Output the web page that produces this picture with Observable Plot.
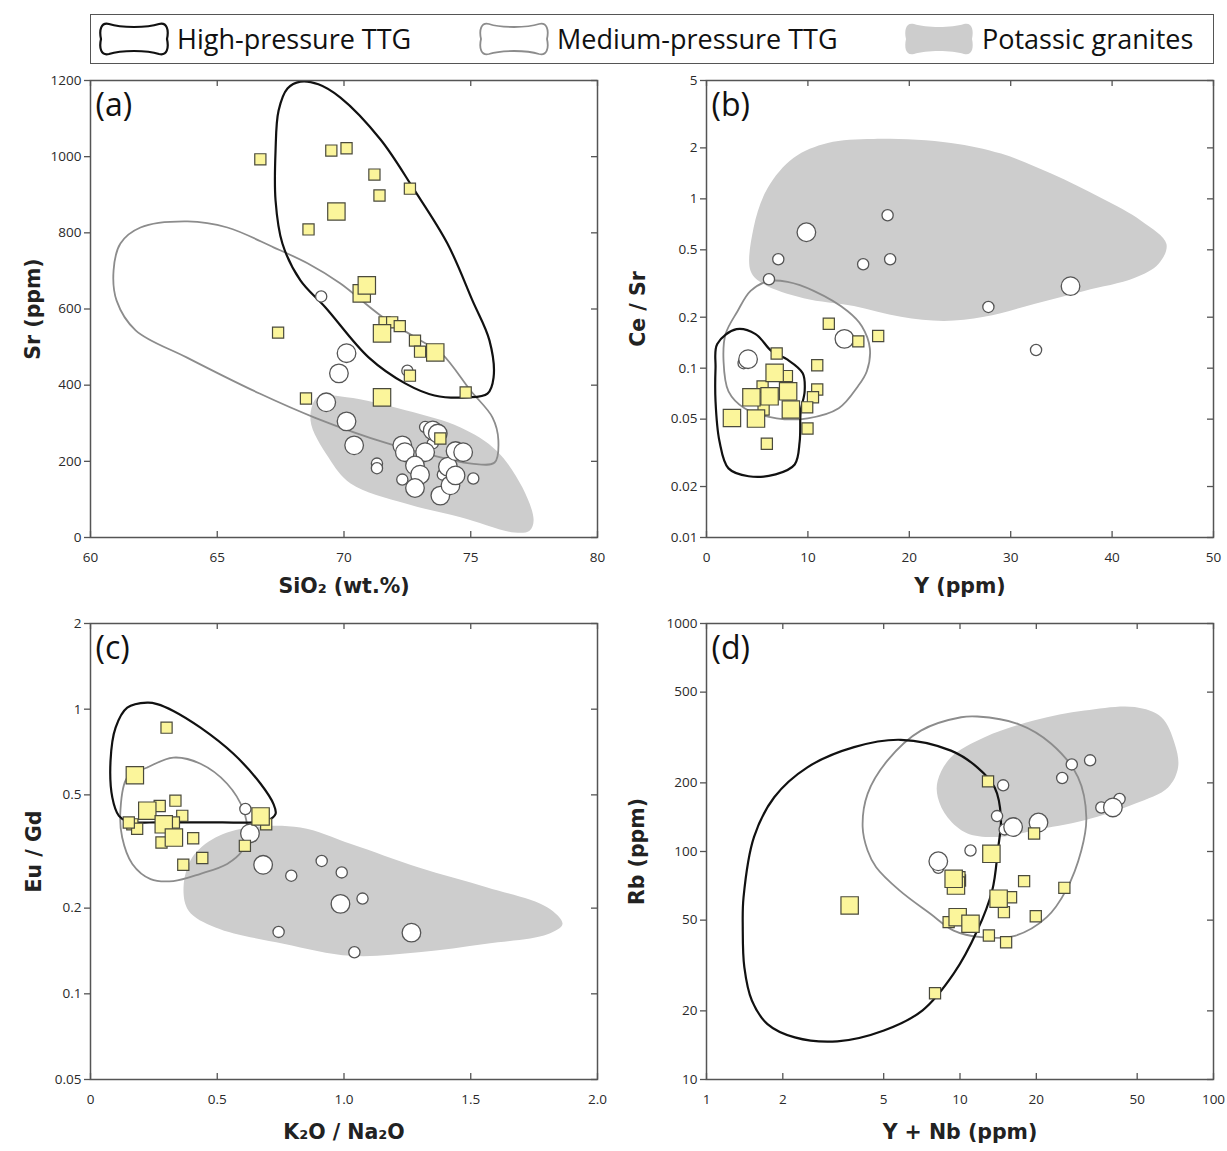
<!DOCTYPE html>
<html><head><meta charset="utf-8">
<script src="https://cdn.jsdelivr.net/npm/d3@7"></script>
<script src="https://cdn.jsdelivr.net/npm/@observablehq/plot@0.6"></script>
<style>
body{margin:0;background:#fff;}
#root{position:relative;width:1227px;height:1151px;overflow:hidden;font-family:"Open Sans",sans-serif;}
.panel{position:absolute;}
.panel svg g[aria-label="x-axis label"], .panel svg g[aria-label="y-axis label"]{font-family:"DejaVu Sans",sans-serif;font-weight:bold;font-size:20.5px;fill:#222;}
#legend{position:absolute;left:90px;top:14px;width:1124px;height:50px;border:1.5px solid #555;box-sizing:border-box;}
.li{position:absolute;top:0;height:47px;display:flex;align-items:center;font-size:27px;color:#111;}
.li svg{margin-right:6px;}
</style>
</head><body>
<div id="root">
  <div id="legend">
    <div class="li" style="left:8px"><svg width="72" height="38"><path d="M10,4 C22,8 48,8 60,4 C68,2 70,10 68,19 C70,28 68,36 60,34 C48,30 22,30 10,34 C2,36 0,28 2,19 C0,10 2,2 10,4 Z" fill="#fff" stroke="#111" stroke-width="2.2"/></svg><span>High-pressure TTG</span></div>
    <div class="li" style="left:388px"><svg width="72" height="38"><path d="M10,4 C22,8 48,8 60,4 C68,2 70,10 68,19 C70,28 68,36 60,34 C48,30 22,30 10,34 C2,36 0,28 2,19 C0,10 2,2 10,4 Z" fill="#fff" stroke="#8c8c8c" stroke-width="1.8"/></svg><span>Medium-pressure TTG</span></div>
    <div class="li" style="left:813px"><svg width="72" height="38"><path d="M10,4 C22,8 48,8 60,4 C68,2 70,10 68,19 C70,28 68,36 60,34 C48,30 22,30 10,34 C2,36 0,28 2,19 C0,10 2,2 10,4 Z" fill="#cdcdcd" stroke="none"/></svg><span>Potassic granites</span></div>
  </div>
</div>
<script>
// ---------- Panel (a): SiO2 vs Sr ----------
const aXTicks = [60, 65, 70, 75, 80];
const aYTicks = [0, 200, 400, 600, 800, 1000, 1200];
const aHP = [[68.28,1197],[68.99,1190],[69.86,1155],[71.44,1045],[72.74,916],[74.08,772],[75.07,622],[75.74,517],[75.90,420],[75.66,378],[74.87,368],[73.57,373],[72.43,404],[70.97,473],[69.27,604],[68.28,675],[67.57,772],[67.30,885],[67.30,1016],[67.42,1121],[67.77,1179]];
const aMP = [[60.91,701],[61.18,772],[61.97,814],[63.83,830],[65.40,814],[67.22,762],[68.56,720],[69.86,667],[71.44,583],[73.02,517],[73.85,483],[74.99,386],[75.86,315],[76.09,255],[75.94,197],[75.03,194],[73.85,210],[71.72,247],[68.84,315],[66.67,378],[63.79,473],[61.78,544],[61.03,622]];
const aKG = [[68.95,368],[70.10,368],[72.43,334],[74.60,289],[76.02,228],[77.04,131],[77.48,45],[77.32,18],[76.73,13],[74.60,53],[72.43,89],[70.26,142],[69.39,210],[68.68,307]];
const aSqSmall = [[66.7,993],[69.5,1016],[70.1,1022],[71.2,953],[71.4,898],[72.6,916],[68.6,809],[67.4,538],[71.6,565],[71.9,565],[72.2,555],[72.8,517],[73.0,488],[72.6,425],[68.5,365],[73.8,260],[74.8,381]];
const aSqLarge = [[69.7,856],[70.7,641],[70.9,662],[71.5,536],[73.6,486],[71.5,368]];
const aCiSmall = [[69.1,633],[72.5,438],[71.3,194],[71.3,182],[73.5,247],[72.3,152],[75.1,155],[73.2,290],[73.9,165]];
const aCiLarge = [[70.1,484],[69.8,431],[69.3,355],[70.1,305],[70.4,242],[72.3,242],[72.4,224],[73.5,281],[73.7,273],[73.2,224],[72.8,189],[73.0,165],[72.8,130],[73.8,110],[74.2,137],[74.1,186],[74.4,227],[74.7,224],[74.4,163]];

// ---------- Panel (b): Y vs Ce/Sr ----------
const bXTicks = [0, 10, 20, 30, 40, 50];
const bYTicks = [0.01, 0.02, 0.05, 0.1, 0.2, 0.5, 1, 2, 5];
const bHP = [[1.06,0.139],[2.96,0.170],[4.84,0.159],[6.42,0.126],[7.91,0.113],[9.49,0.0933],[9.68,0.073],[9.29,0.0557],[9.19,0.037],[8.70,0.027],[6.82,0.0236],[4.15,0.023],[2.17,0.0256],[1.28,0.037],[0.89,0.0638],[0.89,0.1]];
const bMP = [[1.68,0.110],[1.88,0.159],[3.06,0.217],[4.35,0.286],[6.13,0.327],[8.00,0.323],[10.57,0.286],[13.93,0.217],[15.32,0.177],[16.11,0.131],[15.81,0.096],[14.92,0.078],[13.04,0.058],[9.98,0.0506],[6.92,0.0506],[3.75,0.058],[2.17,0.073]];
const bKG = [[4.35,0.375],[4.64,0.673],[6.03,1.16],[8.60,1.75],[11.96,2.14],[16.50,2.26],[24.11,2.14],[29.05,1.85],[33.99,1.41],[38.93,1.01],[42.89,0.741],[45.36,0.542],[44.57,0.412],[42.19,0.341],[37.25,0.286],[32.31,0.239],[27.37,0.201],[23.42,0.190],[19.17,0.201],[14.53,0.233],[9.58,0.259],[5.63,0.314]];
const bSqSmall = [[12.06,0.183],[14.97,0.144],[16.93,0.155],[6.92,0.122],[10.92,0.104],[7.93,0.0898],[5.53,0.078],[10.92,0.0748],[10.5,0.0673],[9.93,0.0587],[5.63,0.057],[9.96,0.044],[5.95,0.0358]];
const bSqLarge = [[6.72,0.0938],[4.43,0.0673],[6.22,0.0682],[8.05,0.073],[8.32,0.057],[2.51,0.0508],[4.88,0.0504]];
const bCiSmall = [[17.86,0.80],[7.08,0.44],[15.45,0.411],[18.11,0.44],[6.16,0.335],[27.8,0.23],[32.5,0.128],[3.66,0.107]];
const bCiLarge = [[9.85,0.635],[35.9,0.305],[13.6,0.149],[4.1,0.113]];

// ---------- Panel (c): K2O/Na2O vs Eu/Gd ----------
const cXTicks = [0, 0.5, 1, 1.5, 2];
const cYTicks = [0.05, 0.1, 0.2, 0.5, 1, 2];
const cHP = [[0.224,1.054],[0.145,1.012],[0.099,0.861],[0.079,0.658],[0.086,0.490],[0.112,0.422],[0.145,0.404],[0.27,0.400],[0.394,0.400],[0.52,0.400],[0.643,0.400],[0.697,0.406],[0.730,0.429],[0.722,0.464],[0.671,0.547],[0.564,0.697],[0.434,0.861],[0.327,0.986],[0.263,1.042]];
const cMP = [[0.327,0.676],[0.224,0.624],[0.145,0.575],[0.118,0.440],[0.125,0.354],[0.165,0.286],[0.237,0.253],[0.327,0.249],[0.434,0.264],[0.539,0.286],[0.598,0.318],[0.618,0.365],[0.604,0.440],[0.539,0.547],[0.434,0.643]];
const cKG = [[0.627,0.384],[0.828,0.384],[1.028,0.336],[1.295,0.278],[1.562,0.237],[1.803,0.201],[1.862,0.176],[1.803,0.162],[1.562,0.150],[1.295,0.140],[1.028,0.136],[0.761,0.150],[0.493,0.171],[0.387,0.196],[0.367,0.237],[0.401,0.301],[0.493,0.354]];
const cSqSmall = [[0.300,0.861],[0.273,0.457],[0.335,0.477],[0.362,0.422],[0.329,0.400],[0.165,0.394],[0.184,0.380],[0.151,0.400],[0.280,0.340],[0.405,0.352],[0.441,0.300],[0.366,0.284],[0.609,0.331],[0.693,0.394]];
const cSqLarge = [[0.175,0.586],[0.224,0.440],[0.289,0.394],[0.329,0.354],[0.671,0.420]];
const cCiSmall = [[0.611,0.446],[0.792,0.260],[0.912,0.293],[0.991,0.267],[1.073,0.216],[0.742,0.165],[1.041,0.140]];
const cCiLarge = [[0.629,0.366],[0.681,0.284],[0.986,0.207],[1.266,0.164]];

// ---------- Panel (d): Y+Nb vs Rb ----------
const dXTicks = [1, 2, 5, 10, 20, 50, 100];
const dYTicks = [10, 20, 50, 100, 200, 500, 1000];
const dHP = [[5.84,309],[3.82,287],[2.50,234],[1.85,173],[1.54,116],[1.40,63.0],[1.39,46.6],[1.41,31.1],[1.51,22.2],[1.74,17.5],[2.23,15.3],[3.28,14.7],[5.01,16.4],[7.12,20.1],[9.44,29.1],[11.7,45.0],[13.4,67.5],[14.1,101],[14.5,141],[13.7,191],[11.7,234],[9.21,277]];
const dMP = [[10.1,388],[11.7,391],[16.9,363],[22.9,297],[29.2,212],[31.5,141],[30.1,101],[26.2,67.5],[22.0,51.5],[16.6,42.8],[12.1,42.1],[9.44,45.0],[7.64,53.3],[5.77,67.5],[4.67,85.3],[4.32,101],[4.13,128],[4.32,179],[5.18,251],[7.01,339]];
const dKG = [[8.17,205],[9.21,259],[12.5,317],[19.7,376],[31.0,415],[48.9,430],[62.3,388],[70.3,297],[72.5,234],[66.2,191],[48.9,162],[31.0,137],[19.7,124],[14.5,116],[10.7,120],[8.94,141],[8.17,173]];
const dSqSmall = [[12.9,203],[19.6,120],[10.0,74.6],[17.9,74.1],[25.8,69.3],[15.9,63.0],[14.9,54.2],[19.9,52.0],[9.02,49.0],[13.0,42.8],[15.2,40.0],[7.97,23.9],[9.95,77.1]];
const dSqLarge = [[13.3,97.7],[9.64,70.9],[3.67,58.0],[14.2,62.1],[9.79,51.5],[11.0,48.2],[9.44,75.9]];
const dCiSmall = [[14.8,195],[25.3,210],[27.6,241],[32.6,251],[36.1,156],[42.6,170],[14.0,143],[15.0,125],[11.0,101],[8.21,84.8]];
const dCiLarge = [[40.1,156],[16.2,128],[20.4,134],[8.21,90.6]];

const COL = {kg:"#cdcdcd", hp:"#111111", mp:"#8c8c8c", sqFill:"#fbf59b", sqStroke:"#4a4a3c", ciStroke:"#555555", frame:"#555555", text:"#2a2a2a"};

function panel(o) {
  const iw = o.width - o.ml - o.mr, ih = o.height - o.mt - o.mb;
  const X = d => d[0], Y = d => d[1];
  const svg = Plot.plot({
    width: o.width, height: o.height,
    marginLeft: o.ml, marginRight: o.mr, marginTop: o.mt, marginBottom: o.mb,
    style: {fontFamily: '"Open Sans", sans-serif', fontSize: "13px", color: "#222", background: "transparent"},
    x: {type: o.xType, domain: o.xDomain},
    y: {type: o.yType, domain: o.yDomain},
    marks: [
      Plot.line(o.kg, {x: X, y: Y, curve: "catmull-rom-closed", fill: COL.kg, stroke: "none"}),
      Plot.line(o.mp, {x: X, y: Y, curve: "catmull-rom-closed", stroke: COL.mp, strokeWidth: 1.8}),
      Plot.line(o.hp, {x: X, y: Y, curve: "catmull-rom-closed", stroke: COL.hp, strokeWidth: 2.2}),
      Plot.dot(o.ciS, {x: X, y: Y, r: 5.6, fill: "white", stroke: COL.ciStroke, strokeWidth: 1.3}),
      Plot.dot(o.ciL, {x: X, y: Y, r: 9.3, fill: "white", stroke: COL.ciStroke, strokeWidth: 1.3}),
      Plot.dot(o.sqS, {x: X, y: Y, symbol: "square", r: 6.3, fill: COL.sqFill, stroke: COL.sqStroke, strokeWidth: 1.2}),
      Plot.dot(o.sqL, {x: X, y: Y, symbol: "square", r: 9.8, fill: COL.sqFill, stroke: COL.sqStroke, strokeWidth: 1.2}),
      Plot.frame({stroke: COL.frame, strokeWidth: 1.5}),
      // inward ticks: bottom, top, right; outward ticks on the left
      Plot.tickX(o.xTicks, {x: d => d, insetTop: ih - 6, stroke: COL.frame, strokeWidth: 1.3}),
      Plot.tickX(o.xTicks, {x: d => d, insetBottom: ih - 6, stroke: COL.frame, strokeWidth: 1.3}),
      Plot.tickY(o.yTicks, {y: d => d, insetLeft: iw - 6, stroke: COL.frame, strokeWidth: 1.3}),
      Plot.tickY(o.yTicks, {y: d => d, insetLeft: -6, insetRight: iw, stroke: COL.frame, strokeWidth: 1.3}),
      // tick labels
      Plot.text(o.yTicks, {y: d => d, text: o.yFmt, frameAnchor: "left", dx: -9, textAnchor: "end", fontSize: 13.5, fill: COL.text}),
      Plot.text(o.xTicks, {x: d => d, text: o.xFmt, frameAnchor: "bottom", dy: 20, lineAnchor: "middle", fontSize: 13.5, fill: COL.text}),
      // axis titles only
      Plot.axisY({ticks: [], tickSize: 0, label: o.yLabel, labelAnchor: "center", labelArrow: "none", labelOffset: o.yLabelOffset}),
      Plot.axisX({ticks: [], tickSize: 0, label: o.xLabel, labelAnchor: "center", labelArrow: "none", labelOffset: o.xLabelOffset}),
      Plot.text([o.letter], {frameAnchor: "top-left", text: d => d, dx: 5, dy: 13, fontSize: 32, lineAnchor: "top", fill: "#111"})
    ]
  });
  const div = document.createElement("div");
  div.className = "panel";
  div.style.left = o.left + "px";
  div.style.top = o.top + "px";
  div.appendChild(svg);
  document.getElementById("root").appendChild(div);
}

panel({left: 0, top: 70, width: 610, height: 540, ml: 90, mr: 13, mt: 10, mb: 73,
  xType: "linear", xDomain: [60, 80], yType: "linear", yDomain: [0, 1200],
  xTicks: aXTicks, yTicks: aYTicks, xFmt: d => String(d), yFmt: d => String(d),
  xLabel: "SiO₂ (wt.%)", yLabel: "Sr (ppm)", xLabelOffset: 55, yLabelOffset: 65, letter: "(a)",
  hp: aHP, mp: aMP, kg: aKG, sqS: aSqSmall, sqL: aSqLarge, ciS: aCiSmall, ciL: aCiLarge});

panel({left: 613, top: 70, width: 614, height: 540, ml: 93, mr: 14, mt: 10, mb: 73,
  xType: "linear", xDomain: [0, 50], yType: "log", yDomain: [0.01, 5],
  xTicks: bXTicks, yTicks: bYTicks, xFmt: d => String(d), yFmt: d => String(d),
  xLabel: "Y (ppm)", yLabel: "Ce / Sr", xLabelOffset: 55, yLabelOffset: 76, letter: "(b)",
  hp: bHP, mp: bMP, kg: bKG, sqS: bSqSmall, sqL: bSqLarge, ciS: bCiSmall, ciL: bCiLarge});

panel({left: 0, top: 610, width: 610, height: 541, ml: 90, mr: 13, mt: 13, mb: 72,
  xType: "linear", xDomain: [0, 2], yType: "log", yDomain: [0.05, 2],
  xTicks: cXTicks, yTicks: cYTicks, xFmt: d => d === 0 ? "0" : d.toFixed(1), yFmt: d => String(d),
  xLabel: "K₂O / Na₂O", yLabel: "Eu / Gd", xLabelOffset: 59, yLabelOffset: 64, letter: "(c)",
  hp: cHP, mp: cMP, kg: cKG, sqS: cSqSmall, sqL: cSqLarge, ciS: cCiSmall, ciL: cCiLarge});

panel({left: 613, top: 610, width: 614, height: 541, ml: 93, mr: 14, mt: 13, mb: 72,
  xType: "log", xDomain: [1, 100], yType: "log", yDomain: [10, 1000],
  xTicks: dXTicks, yTicks: dYTicks, xFmt: d => String(d), yFmt: d => String(d),
  xLabel: "Y + Nb (ppm)", yLabel: "Rb (ppm)", xLabelOffset: 59, yLabelOffset: 77, letter: "(d)",
  hp: dHP, mp: dMP, kg: dKG, sqS: dSqSmall, sqL: dSqLarge, ciS: dCiSmall, ciL: dCiLarge});
</script>
</body></html>
